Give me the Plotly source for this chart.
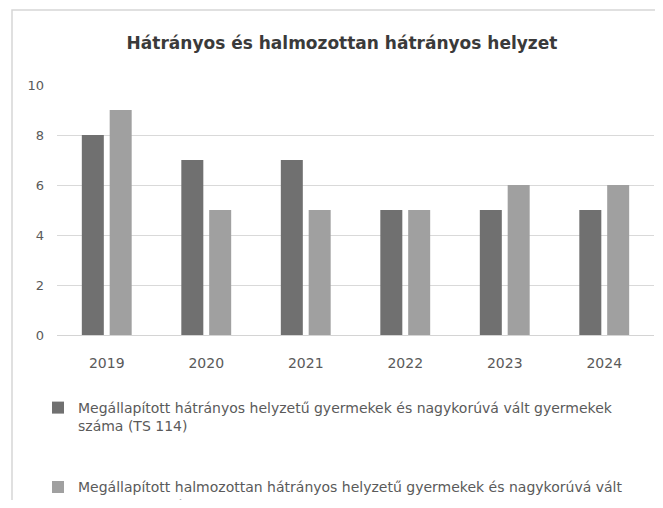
import plotly.graph_objects as go

years = ["2019", "2020", "2021", "2022", "2023", "2024"]
series1_name = "Megállapított hátrányos helyzetű gyermekek és nagykorúvá vált gyermekek<br>száma (TS 114)"
series1_values = [8, 7, 7, 5, 5, 5]
series2_name = "Megállapított halmozottan hátrányos helyzetű gyermekek és nagykorúvá vált<br>gyermekek száma"
series2_values = [9, 5, 5, 5, 6, 6]
y_ticks = [0, 2, 4, 6, 8, 10]
title_text = "Hátrányos és halmozottan hátrányos helyzet"

# page has an 8px body margin; work in page pixel coordinates and convert
OFF = 8
W, H = 663 - 2 * OFF, 508 - 2 * OFF
PLOT_L, PLOT_R, PLOT_T, PLOT_B = 57, 654, 85, 335  # page px
ML = PLOT_L - OFF
MR = W - (PLOT_R - OFF)
MT = PLOT_T - OFF
MB = H - (PLOT_B - OFF)
PW, PH = W - ML - MR, H - MT - MB

def px_x(p):
    return (p - OFF - ML) / PW

def px_y(p):
    return (PLOT_B - p) / PH

font_family = "DejaVu Sans, Verdana, sans-serif"

fig = go.Figure()
fig.add_trace(go.Bar(x=years, y=series1_values, name=series1_name,
                     marker=dict(color="#707070", line=dict(width=0)),
                     legendgroup="a"))
fig.add_trace(go.Bar(x=years, y=series2_values, name=series2_name,
                     marker=dict(color="#a0a0a0", line=dict(width=0)),
                     legendgroup="b"))

fig.update_layout(
    width=W, height=H,
    margin=dict(l=ML, r=MR, t=MT, b=MB, autoexpand=False),
    paper_bgcolor="white", plot_bgcolor="white",
    font=dict(family=font_family, color="#595959", size=13),
    title=dict(text="<b>" + title_text + "</b>", x=(342 - OFF) / W, xanchor="center",
               y=1 - (43 - OFF) / H, yanchor="middle",
               font=dict(size=17, color="#3a3a3a", family=font_family)),
    barmode="group", bargap=0.44, bargroupgap=0.21,
    showlegend=True,
    legend=dict(orientation="v", x=px_x(38), xanchor="left",
                y=px_y(392), yanchor="top", valign="top",
                tracegroupgap=40, traceorder="grouped",
                font=dict(size=14, color="#5a5a5a", family=font_family),
                bgcolor="rgba(0,0,0,0)"),
    xaxis=dict(showgrid=False, showline=False, ticks="", ticklabelstandoff=18,
               tickfont=dict(size=14, color="#5a5a5a")),
    yaxis=dict(range=[0, 10], tickvals=y_ticks, showgrid=True, gridcolor="#d9d9d9",
               gridwidth=1, zeroline=True, zerolinecolor="#d4d4d4", zerolinewidth=1,
               showline=False, ticks="", ticklabelstandoff=12,
               tickfont=dict(size=13, color="#5a5a5a")),
    shapes=[dict(type="rect", xref="paper", yref="paper",
                 x0=px_x(12), x1=px_x(657), y0=px_y(540), y1=px_y(10),
                 line=dict(color="#d6d6d6", width=1.5), fillcolor="rgba(0,0,0,0)",
                 layer="below")],
)

fig.write_html("out.html")
